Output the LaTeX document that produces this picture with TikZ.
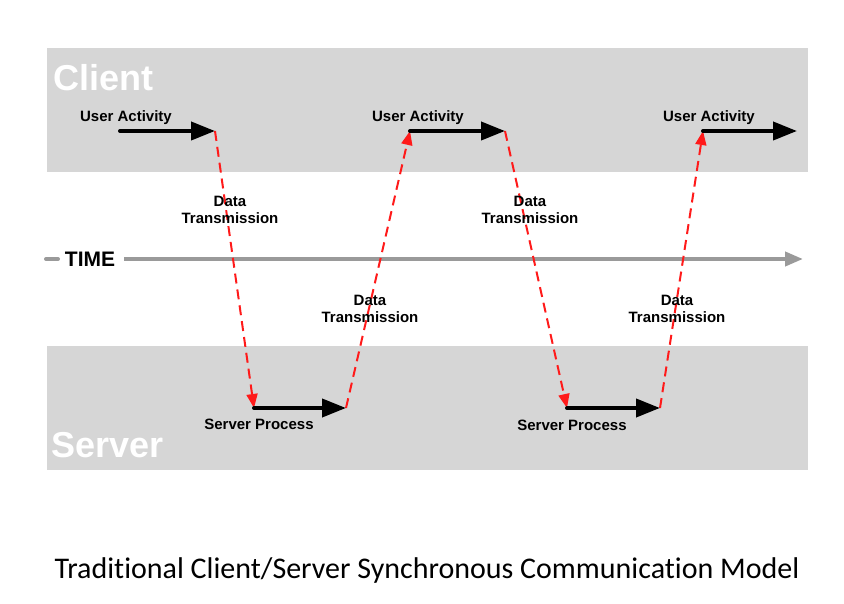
\documentclass[tikz,border=0pt]{standalone}
\usepackage{fontspec}
\setmainfont{Liberation Sans}
\newfontfamily\capfont[Ligatures={NoCommon,NoRequired,NoContextual}]{Carlito}
\usetikzlibrary{arrows.meta}
\definecolor{bandgray}{HTML}{D6D6D6}
\definecolor{timegray}{HTML}{9A9A9A}
\definecolor{dashred}{HTML}{FF1A1A}
\begin{document}
\begin{tikzpicture}[x=1pt,y=-1pt,
  band/.style={fill=bandgray,draw=none},
  bandlabel/.style={text=white,font=\fontsize{36}{36}\selectfont\bfseries,anchor=base west,inner sep=0},
  lbl/.style={font=\fontsize{15}{17}\selectfont\bfseries,inner sep=0,align=center},
  blackarrow/.style={line width=4pt,-{Triangle[length=24pt,width=18pt]},line cap=round},
  datarrow/.style={dashred,line width=2pt,dash pattern=on 10pt off 6pt,-{Triangle[length=14pt,width=11pt]}},
  timeline/.style={timegray,line width=4pt}
]
\useasboundingbox (0,0) rectangle (844,604);
% bands
\fill[band] (47,48) rectangle (808,172);
\fill[band] (47,346) rectangle (808,470);
\node[bandlabel] (client) at (53,91) {Client};
\node[bandlabel] (server) at (51,457) {Server};
% time line
\coordinate (t0) at (46,259);
\coordinate (t1) at (58,259);
\node[font=\fontsize{21}{21}\selectfont\bfseries,inner sep=0] (time) at (90,259) {TIME};
\coordinate (t2) at (124,259);
\coordinate (t3) at (803,259);
\draw[timeline,line cap=round] (t0) -- (t1);
\draw[timeline,-{Triangle[length=18pt,width=14pt]}] (t2) -- (t3);
% coordinates
\coordinate (u1s) at (120,131); \coordinate (u1e) at (215,131);
\coordinate (u2s) at (410,131); \coordinate (u2e) at (505,131);
\coordinate (u3s) at (703,131); \coordinate (u3e) at (797,131);
\coordinate (s1s) at (254,408); \coordinate (s1e) at (346,408);
\coordinate (s2s) at (567,408); \coordinate (s2e) at (660,408);
% red dashed
\draw[datarrow] (u1e) -- (s1s);
\draw[datarrow] (s1e) -- (u2s);
\draw[datarrow] (u2e) -- (s2s);
\draw[datarrow] (s2e) -- (u3s);
% black arrows
\draw[blackarrow] (u1s) -- (u1e);
\draw[blackarrow] (u2s) -- (u2e);
\draw[blackarrow] (u3s) -- (u3e);
\draw[blackarrow] (s1s) -- (s1e);
\draw[blackarrow] (s2s) -- (s2e);
% labels
\node[lbl] (ua1) at (126,118) {User Activity};
\node[lbl] (ua2) at (418,118) {User Activity};
\node[lbl] (ua3) at (709,118) {User Activity};
\node[lbl] (sp1) at (259,424) {Server Process};
\node[lbl] (sp2) at (572,425) {Server Process};
\node[lbl] (dt1) at (230,210) {Data\\Transmission};
\node[lbl] (dt2) at (370,309) {Data\\Transmission};
\node[lbl] (dt3) at (530,210) {Data\\Transmission};
\node[lbl] (dt4) at (677,309) {Data\\Transmission};
% caption
\node[font=\capfont\fontsize{30}{30}\selectfont,inner sep=0] (cap) at (427,570) {Traditional Client/Server Synchronous Communication Model};
\end{tikzpicture}
\end{document}
